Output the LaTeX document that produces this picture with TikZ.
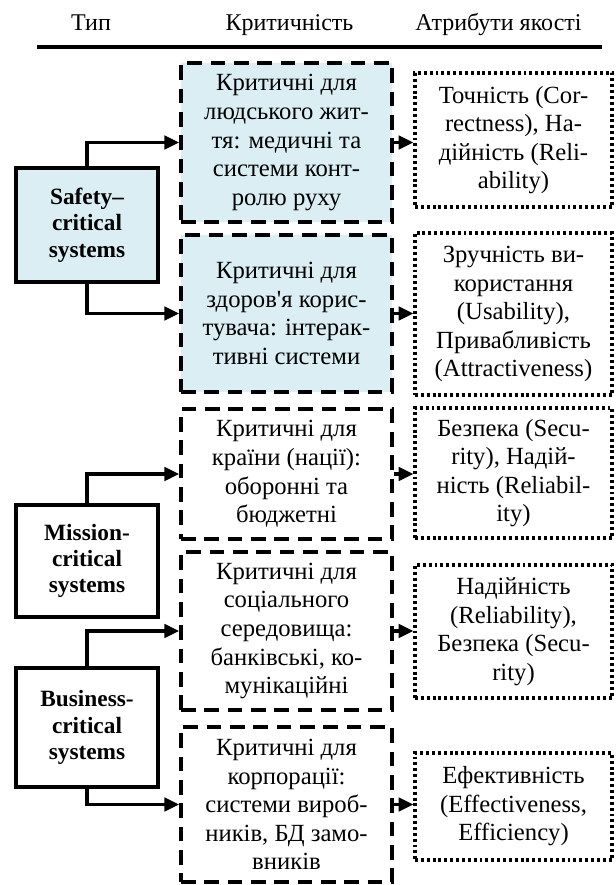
\documentclass[tikz,border=0pt]{standalone}
\usepackage{fontspec}
\setmainfont{Liberation Serif}
\newfontfamily\plainserif[Ligatures=ResetAll]{Liberation Serif}
\usetikzlibrary{arrows.meta}
\definecolor{lblue}{RGB}{218,238,243}
\begin{document}
\begin{tikzpicture}[x=0.75pt,y=-0.75pt,
  txt/.style={font=\fontsize{18.5}{21.4}\selectfont},
  sz/.style 2 args={minimum width=#1*0.75pt, minimum height=#2*0.75pt, inner sep=0pt},
  typebox/.style={draw, line width=2.6pt, align=center, font=\fontsize{17.5}{19.8}\selectfont\bfseries},
  critbox/.style={txt, draw, line width=2.8pt, dash pattern=on 11pt off 6.5pt, align=center},
  attrbox/.style={txt, draw, line width=2.4pt, dash pattern=on 2.2pt off 2.2pt, align=center},
  conn/.style={line width=2.4pt, -{Triangle[length=11pt,width=10pt]}},
  hdr/.style={font=\fontsize{18}{21}\selectfont, anchor=base}
]
\useasboundingbox (0,0) rectangle (615,885);

% header
\node[hdr] (h1) at (91,30) {Тип};
\node[hdr] (h2) at (289.5,30) {Критичність};
\node[hdr] (h3) at (498.5,30) {Атрибути якості};
\coordinate (rl) at (37,47);
\coordinate (rr) at (602,47);
\draw[line width=2.8pt] (rl) -- (rr);

% type boxes
\node[typebox, sz={142}{114}, fill=lblue] (S) at (87,225) {Safety–\\critical\\systems};
\node[typebox, sz={142}{112}] (Mi) at (87,561) {Mission-\\critical\\systems};
\node[typebox, sz={142}{119}] (B) at (87,727.5) {Business-\\critical\\systems};

% criticality boxes
\node[critbox, sz={211}{159}, fill=lblue] (M1) at (286.5,142.5) {Критичні для\\людського жит-\\тя: медичні та\\системи конт-\\ролю руху};
\node[critbox, sz={211}{157}, fill=lblue] (M2) at (286.5,313.5) {Критичні для\\здоров{\plainserif '}я корис-\\тувача: інтерак-\\тивні системи};
\node[critbox, sz={211}{130}] (M3) at (286.5,474) {Критичні для\\країни (нації):\\оборонні та\\бюджетні};
\node[critbox, sz={211}{158}] (M4) at (286.5,631) {Критичні для\\соціального\\середовища:\\банківські, ко-\\мунікаційні};
\node[critbox, sz={211}{155}] (M5) at (286.5,804.5) {Критичні для\\корпорації:\\системи вироб-\\ників, БД замо-\\вників};

% attribute boxes
\node[attrbox, sz={197}{134}] (R1) at (513.5,140) {Точність (Cor-\\rectness), На-\\дійність (Reli-\\ability)};
\node[attrbox, sz={197}{162}] (R2) at (513.5,314) {Зручність ви-\\користання\\(Usability),\\Привабливість\\(Attractiveness)};
\node[attrbox, sz={197}{130}] (R3) at (513.5,473) {Безпека (Secu-\\rity), Надій-\\ність (Reliabil-\\ity)};
\node[attrbox, sz={197}{133}] (R4) at (513.5,631.5) {Надійність\\(Reliability),\\Безпека (Secu-\\rity)};
\node[attrbox, sz={197}{107}] (R5) at (513.5,806.5) {Ефективність\\(Effectiveness,\\Efficiency)};

% connectors type -> criticality
\draw[conn] (S.north) |- (M1.west);
\draw[conn] (S.south) |- (M2.west);
\draw[conn] (Mi.north) |- (M3.west);
\draw[conn] (B.north) |- (M4.west);
\draw[conn] (B.south) |- (M5.west);

% connectors criticality -> attributes
\draw[conn] (M1.east) -- (M1.east -| R1.west);
\draw[conn] (M2.east) -- (M2.east -| R2.west);
\draw[conn] (M3.east) -- (M3.east -| R3.west);
\draw[conn] (M4.east) -- (M4.east -| R4.west);
\draw[conn] (M5.east) -- (M5.east -| R5.west);
\end{tikzpicture}
\end{document}
